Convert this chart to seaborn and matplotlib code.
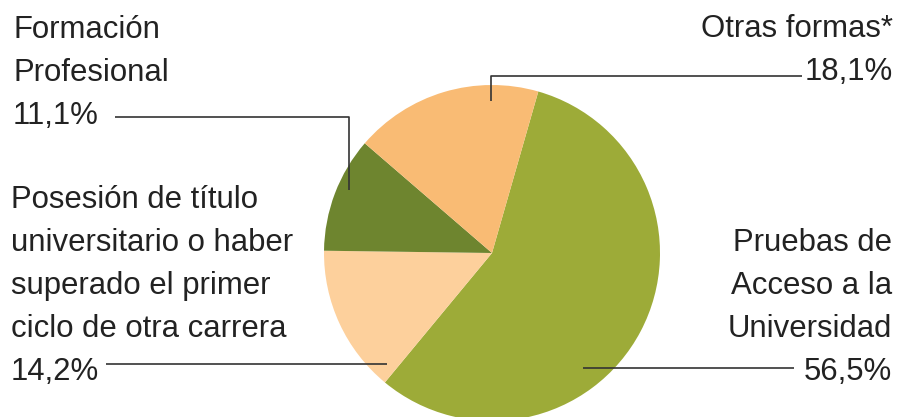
import seaborn as sns
import matplotlib.pyplot as plt

# shares of students by access route
categories = ['Pruebas de Acceso a la Universidad',
              'Posesión de título universitario o haber superado el primer ciclo de otra carrera',
              'Formación Profesional',
              'Otras formas*']
values = [56.5, 14.2, 11.1, 18.1]
colors = ['#9dab38', '#fdd09c', '#6e852f', '#f9bb74']

# label text, split into lines as printed
label_lines = [['Pruebas de', 'Acceso a la', 'Universidad'],
               ['Posesión de título', 'universitario o haber', 'superado el primer', 'ciclo de otra carrera'],
               ['Formación', 'Profesional'],
               ['Otras formas*']]

W, H = 898, 417
sns.set_theme(style='white')
plt.rcParams['font.family'] = ['Liberation Sans', 'DejaVu Sans']

fig = plt.figure(figsize=(W / 100, H / 100), dpi=100)
ax = fig.add_axes([0, 0, 1, 1])


def px(x, y):
    # reference pixel coords (y down) -> axes data coords (y up)
    return x, H - y


ax.pie(values, colors=colors, startangle=74, counterclock=False,
       center=px(492, 253), radius=168, wedgeprops=dict(linewidth=0))

# pie() sets its own limits, so fix the pixel frame afterwards
ax.set_xlim(0, W)
ax.set_ylim(0, H)
ax.set_aspect('equal')
ax.axis('off')

# layout per label: x, alignment, first baseline, leader path
layout = [
    dict(x=892, ha='right', y0=251, path=[(794, 368), (583, 368)]),
    dict(x=11, ha='left', y0=208, path=[(106, 364), (387, 364)]),
    dict(x=13, ha='left', y0=38, path=[(115, 117), (349, 117), (349, 190)]),
    dict(x=893, ha='right', y0=37, path=[(802, 76), (491, 76), (491, 101)]),
]

text_color = '#222222'
step = 43
for lines, val, lay in zip(label_lines, values, layout):
    pct = f'{val:.1f}'.replace('.', ',') + '%'
    for i, line in enumerate(lines + [pct]):
        ax.text(*px(lay['x'], lay['y0'] + i * step), line, ha=lay['ha'], va='baseline',
                fontsize=22.4, color=text_color)
    xs, ys = zip(*[px(x, y) for x, y in lay['path']])
    ax.plot(xs, ys, color='#333333', lw=1.2, solid_capstyle='butt')

fig.savefig('out.png', dpi=100)
